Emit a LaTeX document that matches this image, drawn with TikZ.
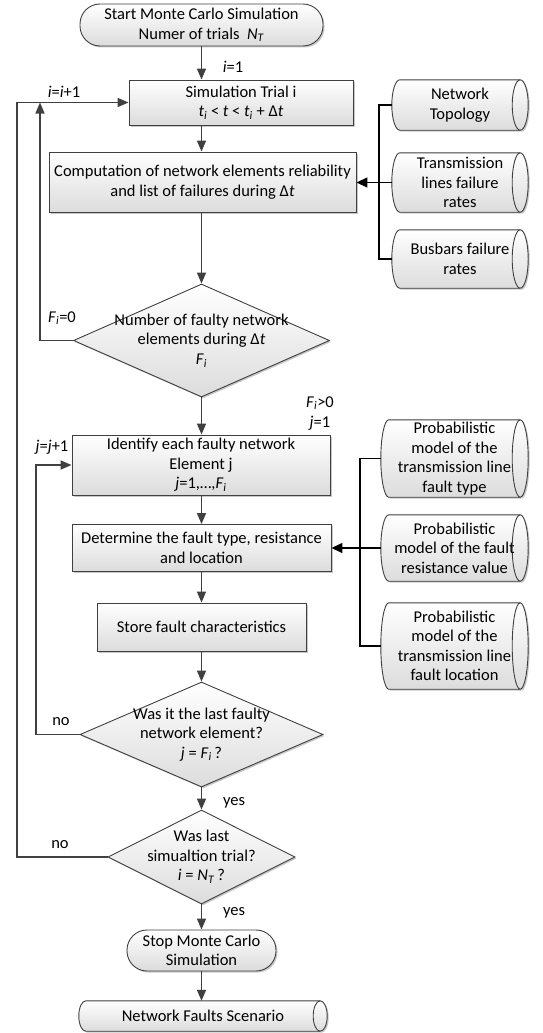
\documentclass[tikz,border=0pt]{standalone}
\usepackage{fontspec}
\setmainfont{Carlito}
\usetikzlibrary{arrows.meta,shapes.geometric,shadows,calc}
\definecolor{ln}{HTML}{404040}
\definecolor{fillbot}{HTML}{DCDCDC}
\newcommand\fs{\fontsize{16.5}{19.5}\selectfont}
\tikzset{
  base/.style={draw=ln, line width=0.9pt, top color=white, bottom color=fillbot,
    drop shadow={shadow xshift=1.5pt, shadow yshift=-1.5pt, opacity=.22, fill=black},
    align=center, font=\fs, inner sep=0pt},
  proc/.style={base, rectangle},
  term/.style={base, rectangle, rounded corners=20pt},
  dec/.style={base, diamond},
  cyltext/.style={rectangle, inner sep=0pt, align=center, font=\fs},
  cylshape/.style={draw=ln, line width=0.9pt, top color=white, bottom color=fillbot,
    drop shadow={shadow xshift=1.5pt, shadow yshift=-1.5pt, opacity=.22, fill=black}},
  flow/.style={draw=ln, line width=1.5pt, -{Triangle[length=11pt,width=9pt]}},
  brk/.style={draw=black, line width=1.5pt},
  brkarrow/.style={draw=black, line width=1.5pt, -{Triangle[length=11pt,width=10pt]}},
  lab/.style={font=\fs, inner sep=0pt},
}
\newcommand\cylout[2]{% #1 node name, #2 end x radius (pt)
  \path[cylshape] let \p1=(#1.north west), \p2=(#1.south east), \n1={(\y1-\y2)/2} in
    (\x1,\y1) -- (\x2,\y1) arc[start angle=90, end angle=-90, x radius=#2pt, y radius=\n1]
    -- (\x1,\y2) arc[start angle=270, end angle=90, x radius=#2pt, y radius=\n1] -- cycle;
  \draw[draw=ln, line width=0.9pt] let \p1=(#1.north west), \p2=(#1.south east), \n1={(\y1-\y2)/2} in
    (\x2,\y1) arc[start angle=90, end angle=270, x radius=#2pt, y radius=\n1];
}
\newcommand\It[1]{\textit{#1}}
\begin{document}
\begin{tikzpicture}[x=1pt,y=-1pt]
\useasboundingbox (0,0) rectangle (542,1033);

% main column
\node[term, minimum width=243pt, minimum height=42pt] (start) at (201.5,25)
  {Start Monte Carlo Simulation\\Numer of trials\ \ \It{N}\textsubscript{\It{T}}};
\node[proc, minimum width=224pt, minimum height=45pt] (trial) at (241,102.5)
  {Simulation Trial i\\\It{t}\textsubscript{\It{i}} < \It{t} < \It{t}\textsubscript{\It{i}} + Δ\It{t}};
\node[proc, minimum width=307pt, minimum height=60pt] (comp) at (202.5,182)
  {Computation of network elements reliability\\and list of failures during Δ\It{t}};
\node[dec, minimum width=256pt, minimum height=113pt,
  label={[align=center, font=\fs]center:Number of faulty network\\elements during Δ\It{t}\\\It{F}\textsubscript{\It{i}}}] (d1) at (201.5,340.5) {};
\node[proc, minimum width=258pt, minimum height=60pt] (ident) at (201,465)
  {Identify each faulty network\\Element j\\\It{j}=1,…,\It{F}\textsubscript{\It{i}}};
\node[proc, minimum width=259pt, minimum height=47pt] (det) at (201.5,548)
  {Determine the fault type, resistance\\and location};
\node[proc, minimum width=209pt, minimum height=48pt] (store) at (201.5,627)
  {Store fault characteristics};
\node[dec, minimum width=243pt, minimum height=105pt,
  label={[align=center, font=\fs]center:Was it the last faulty\\network element?\\\It{j} = \It{F}\textsubscript{\It{i}}\,?}] (d2) at (201.5,734.5) {};
\node[dec, minimum width=187pt, minimum height=94pt,
  label={[align=center, font=\fs]center:Was last\\simualtion trial?\\\It{i} = \It{N}\textsubscript{\It{T}}\,?}] (d3) at (201.5,857) {};
\node[term, minimum width=149pt, minimum height=41pt] (stop) at (201.5,950.5)
  {Stop Monte Carlo\\Simulation};
\node[cyltext, minimum width=234pt, minimum height=30pt] (nfs) at (203,1016) {};
\cylout{nfs}{7}
\node[cyltext, minimum width=234pt, minimum height=30pt] at (203,1016) {Network Faults Scenario};

% right data stores, group 1
\node[cyltext, minimum width=120pt, minimum height=50pt] (nt) at (460,105) {};
\cylout{nt}{8}
\node[cyltext] at (nt) {Network\\Topology};
\node[cyltext, minimum width=120pt, minimum height=59pt] (tl) at (460,182.5) {};
\cylout{tl}{8}
\node[cyltext] at (tl) {Transmission\\lines failure\\rates};
\node[cyltext, minimum width=120pt, minimum height=58pt] (bb) at (460,259) {};
\cylout{bb}{8}
\node[cyltext] at (bb) {Busbars failure\\rates};

% right data stores, group 2
\node[cyltext, minimum width=131pt, minimum height=77pt] (p1) at (454.5,458.5) {};
\cylout{p1}{8}
\node[cyltext] at (p1) {Probabilistic\\model of the\\transmission line\\fault type};
\node[cyltext, minimum width=131pt, minimum height=66pt] (p2) at (454.5,548) {};
\cylout{p2}{8}
\node[cyltext] at (p2) {Probabilistic\\model of the fault\\resistance value};
\node[cyltext, minimum width=131pt, minimum height=86pt] (p3) at (454.5,646) {};
\cylout{p3}{8}
\node[cyltext] at (p3) {Probabilistic\\model of the\\transmission line\\fault location};

% coordinates for loops and brackets
\coordinate (b1) at (379,182.5);
\coordinate (b2) at (360,548);

% main flow
\draw[flow] (start.south) -- (start.south |- trial.north);
\draw[flow] (start.south |- trial.south) -- (comp.north -| start.south);
\draw[flow] (comp.south -| d1.north) -- (d1.north);
\draw[flow] (d1.south) -- (d1.south |- ident.north);
\draw[flow] (d1.south |- ident.south) -- (d1.south |- det.north);
\draw[flow] (d1.south |- det.south) -- (d1.south |- store.north);
\draw[flow] (d1.south |- store.south) -- (d2.north);
\draw[flow] (d2.south) -- (d3.north);
\draw[flow] (d3.south) -- (stop.north);
\draw[flow] (stop.south) -- (stop.south |- nfs.north);

% loops
\draw[flow] (d1.west) -- (40,340.5) -- (40,102.5 |- trial.west);
\draw[flow] (d3.west) -- (17,857) -- (17,102.5 |- trial.west) -- (trial.west);
\draw[flow] (d2.west) -- (36,734.5) -- (36,465 |- ident.west) -- (ident.west);

% bracket 1
\draw[brk] ([xshift=-8pt]nt.west) -| (b1 |- nt.west) -- (b1 |- bb.west) -- ([xshift=-8pt]bb.west);
\draw[brk] ([xshift=-8pt]tl.west) -- (b1);
\draw[brkarrow] (b1) -- (comp.east |- b1);
% bracket 2
\draw[brk] ([xshift=-8pt]p1.west) -| (b2 |- p1.west) -- (b2 |- p3.west) -- ([xshift=-8pt]p3.west);
\draw[brk] ([xshift=-8pt]p2.west) -- (b2);
\draw[brkarrow] (b2) -- (det.east);

% labels
\node[lab] (l1) at (233,67) {\It{i}=1};
\node[lab] (l2) at (64,92) {\It{i}=\It{i}+1};
\node[lab] (l3) at (62,318) {\It{F}\textsubscript{\It{i}}=0};
\node[lab] (l4) at (320,403) {\It{F}\textsubscript{\It{i}}>0};
\node[lab] (l5) at (320,423) {\It{j}=1};
\node[lab] (l6) at (52,447) {\It{j}=\It{j}+1};
\node[lab] (l7) at (61,722) {no};
\node[lab] (l8) at (234,803) {yes};
\node[lab] (l9) at (60,845) {no};
\node[lab] (l10) at (234,913) {yes};
\end{tikzpicture}
\end{document}
